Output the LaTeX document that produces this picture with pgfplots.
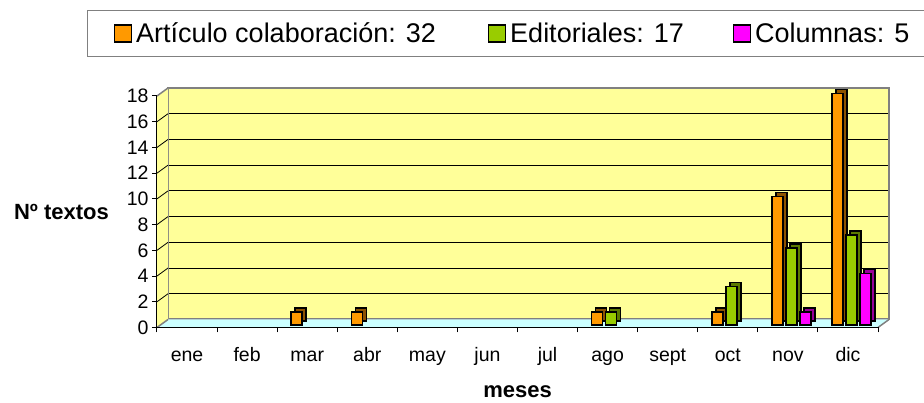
\documentclass[border=0pt]{standalone}
\usepackage{pgfplots}
\pgfplotsset{compat=1.18}
\usepackage{fontspec}
\setmainfont{Liberation Sans}
\definecolor{wall}{HTML}{FFFF99}
\definecolor{floorc}{HTML}{CCFFFF}
\definecolor{wallgray}{HTML}{808080}
\definecolor{c1}{HTML}{FF9900}
\definecolor{c2}{HTML}{99CC00}
\definecolor{c3}{HTML}{FF00FF}
\definecolor{d1}{HTML}{8C5200}
\definecolor{d2}{HTML}{5C7A00}
\definecolor{d3}{HTML}{990099}
\newcommand\tickfont{\fontsize{19.5}{23}\selectfont}
\newcommand\legfont{\fontsize{27}{32}\selectfont}
\newcommand\labfont{\fontsize{22}{26}\selectfont\bfseries}
\pgfplotsset{
  common/.style={scale only axis, width=721pt, height=231.5pt,
    xmin=-0.5, xmax=11.5, ymin=0, ymax=18, anchor=south west, clip=false},
  barsty/.style={hide axis, ybar=3pt, bar width=11pt},
}
\begin{document}
\begin{tikzpicture}[x=1pt,y=1pt]
\path[use as bounding box] (0,0) rectangle (924,403);
% back wall
\begin{axis}[common, at={(168pt,83.5pt)},
  axis background/.style={fill=wall},
  ytick={0,2,...,18}, yticklabels={}, xtick=\empty,
  ymajorgrids, grid style={black, line width=0.8pt},
  major tick length=0pt,
  axis line style={wallgray, line width=2pt}]
\end{axis}
% floor and side wall
\fill[floorc] (157,75.5) -- (878,75.5) -- (889,83.5) -- (168,83.5) -- cycle;
\draw[wallgray, line width=1.5pt] (878,75.5) -- (889,83.5);
\fill[wall] (157,75.5) -- (168,83.5) -- (168,315) -- (157,307) -- cycle;
\foreach \k in {1,...,8} \draw[black, line width=0.8pt] (157,75.5+\k*25.722) -- ++(11,8);
\draw[wallgray, line width=1.5pt] (157,307) -- (168,315);
\draw[wallgray, line width=1.5pt] (157,75.5) -- (168,83.5);
% front axis with ticks, labels, legend
\begin{axis}[common, at={(157pt,75.5pt)},
  axis lines*=left,
  axis line style={black, line width=1pt},
  tick align=outside, major tick length=5pt,
  tick style={black, line width=1pt},
  ytick={0,2,...,18},
  xtick={-0.5,0.5,...,11.5},
  x tick label as interval,
  xticklabels={ene,feb,mar,abr,may,jun,jul,ago,sept,oct,nov,dic},
  ticklabel style={font=\tickfont},
  /pgf/number format/assume math mode=true,
  xticklabel style={anchor=base, yshift=-29.5pt},
  xlabel={meses}, ylabel={Nº textos},
  every axis x label/.style={at={(axis description cs:0.5,-0.3045)}, anchor=base, font=\labfont},
  every axis y label/.style={at={(axis description cs:-0.1325,0.5)}, anchor=center, font=\labfont},
  legend columns=3,
  legend style={at={(axis description cs:-0.0971,1.3715)}, anchor=north west,
    draw=wallgray, line width=1.5pt, font=\legfont,
    inner xsep=15pt, inner ysep=6pt,
    nodes={inner sep=0pt, text height=26pt, text depth=8pt},
    /tikz/every odd column/.append style={column sep=4pt},
    /tikz/every even column/.append style={column sep=0pt}},
]
\addlegendimage{legend image code/.code={\draw[fill=c1, draw=black, line width=1.5pt] (0pt,-8.5pt) rectangle (17pt,8.5pt); \path (-11pt,0pt);}}
\addlegendentry{\makebox[351.5pt][l]{Artículo colaboración: 32}}
\addlegendimage{legend image code/.code={\draw[fill=c2, draw=black, line width=1.5pt] (0pt,-8.5pt) rectangle (17pt,8.5pt);}}
\addlegendentry{\makebox[222.5pt][l]{Editoriales: 17}}
\addlegendimage{legend image code/.code={\draw[fill=c3, draw=black, line width=1.5pt] (0pt,-8.5pt) rectangle (17pt,8.5pt);}}
\addlegendentry{Columnas: 5}
\end{axis}
% bar depth (shadow)
\begin{axis}[common, barsty, at={(164.5pt,82pt)}]
\addplot[fill=d1, draw=black, line width=1.5pt] coordinates {(2,1) (3,1) (7,1) (9,1) (10,10) (11,18)};
\addplot[fill=d2, draw=black, line width=1.5pt] coordinates {(7,1) (9,3) (10,6) (11,7)};
\addplot[fill=d3, draw=black, line width=1.5pt] coordinates {(10,1) (11,4)};
\end{axis}
% bar fronts
\begin{axis}[common, barsty, at={(160.5pt,78pt)}]
\addplot[fill=c1, draw=black, line width=1.5pt] coordinates {(2,1) (3,1) (7,1) (9,1) (10,10) (11,18)};
\addplot[fill=c2, draw=black, line width=1.5pt] coordinates {(7,1) (9,3) (10,6) (11,7)};
\addplot[fill=c3, draw=black, line width=1.5pt] coordinates {(10,1) (11,4)};
\end{axis}
\end{tikzpicture}
\end{document}
